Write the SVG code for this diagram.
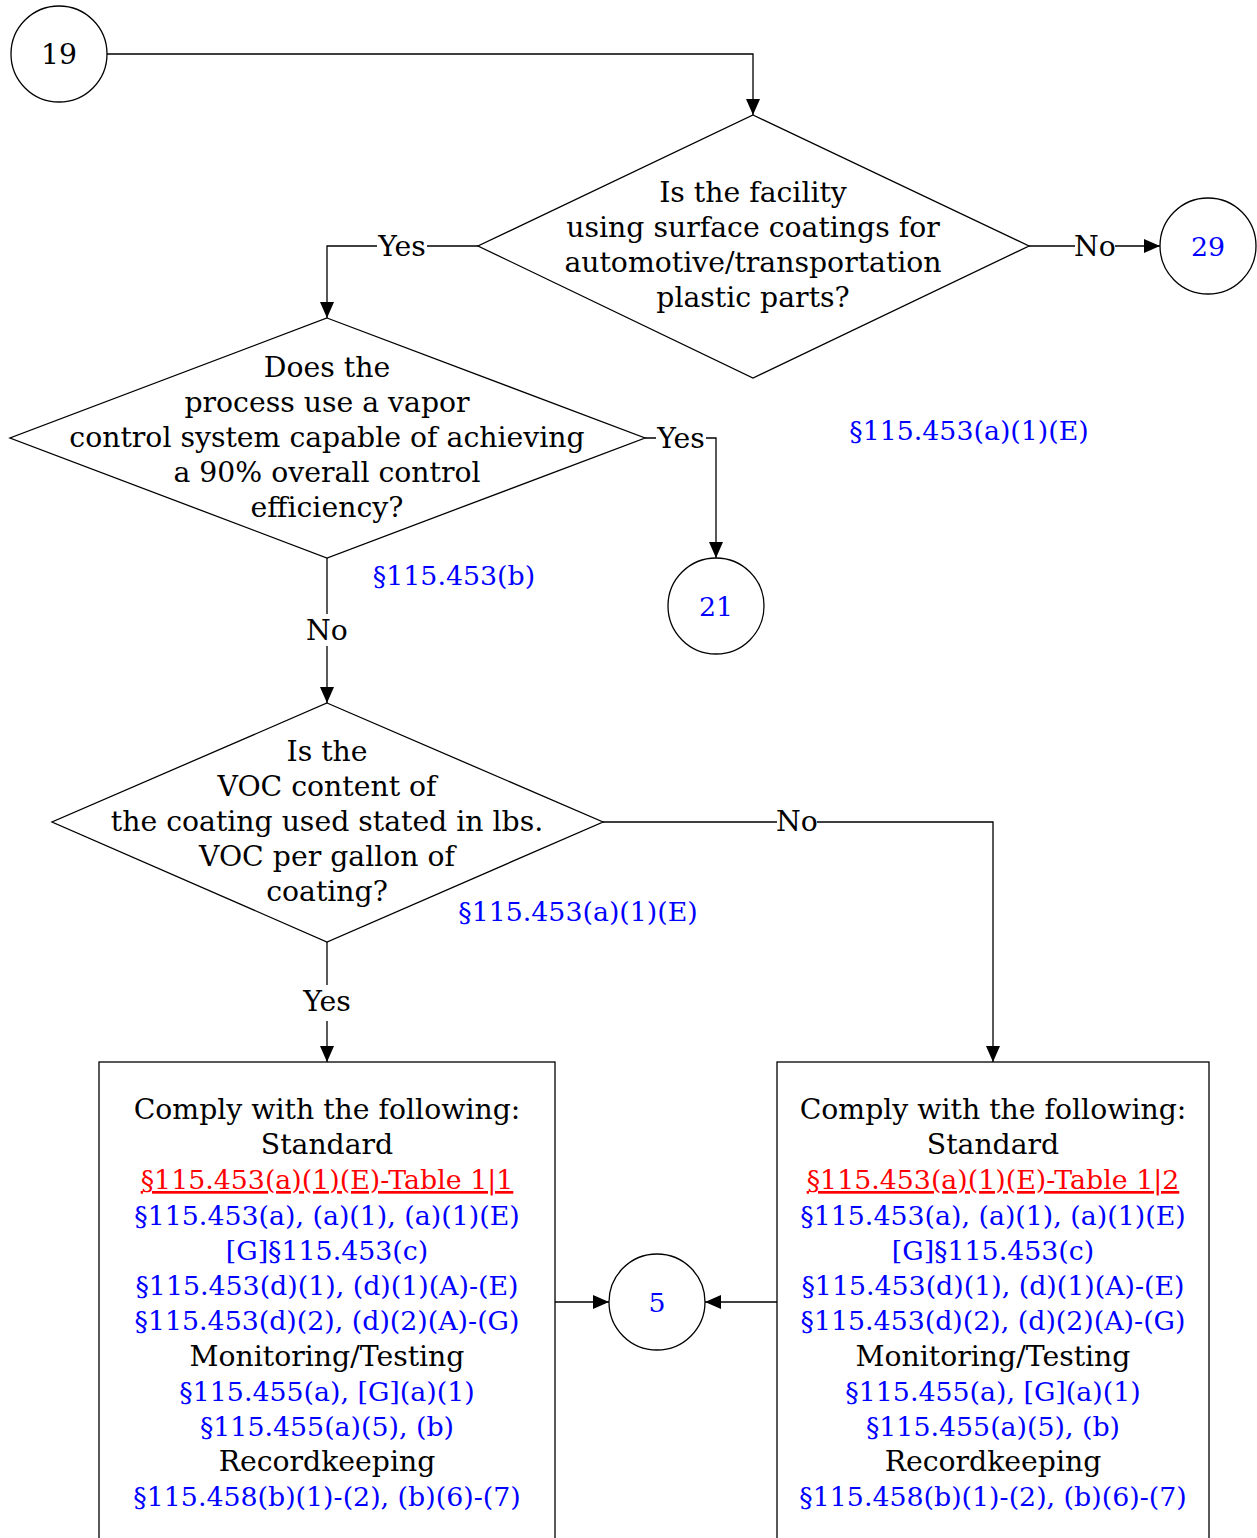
<svg xmlns="http://www.w3.org/2000/svg" width="1257" height="1538" viewBox="0 0 1257 1538">
<style>
text{font-family:"DejaVu Serif","Liberation Serif",serif;font-size:28.3px;text-anchor:middle;fill:#000}
.b{fill:#0000ff;font-size:26.8px}
.r{fill:#ff0000;font-size:26.8px;text-decoration:underline}
.s{fill:#fff;stroke:#000;stroke-width:1.3}
.c{fill:none;stroke:#000;stroke-width:1.3}
.bg{fill:#fff}
</style>
<defs>
<marker id="a" markerWidth="16" markerHeight="14" refX="16" refY="7" orient="auto" markerUnits="userSpaceOnUse">
<path d="M0,0 L16,7 L0,14 Z" fill="#000"/>
</marker>
</defs>
<rect width="1257" height="1538" fill="#fff"/>
<g id="connectors">
<path class="c" d="M107,54 H753 V115" marker-end="url(#a)"/>
<path class="c" d="M478,246 H327 V318" marker-end="url(#a)"/>
<path class="c" d="M1029,246 H1160" marker-end="url(#a)"/>
<path class="c" d="M645,438 H716 V558" marker-end="url(#a)"/>
<path class="c" d="M327,558 V703" marker-end="url(#a)"/>
<path class="c" d="M603,822 H993 V1062" marker-end="url(#a)"/>
<path class="c" d="M327,942 V1062" marker-end="url(#a)"/>
<path class="c" d="M555,1302 H609" marker-end="url(#a)"/>
<path class="c" d="M777,1302 H705" marker-end="url(#a)"/>
<rect class="bg" x="377" y="232" width="50" height="28"/><text x="402" y="256">Yes</text>
<rect class="bg" x="1075" y="232" width="40" height="28"/><text x="1095" y="256">No</text>
<rect class="bg" x="656" y="424" width="50" height="28"/><text x="681" y="448">Yes</text>
<rect class="bg" x="305" y="614" width="44" height="32"/><text x="327" y="640">No</text>
<rect class="bg" x="777" y="808" width="40" height="28"/><text x="797" y="831">No</text>
<rect class="bg" x="300" y="985" width="54" height="36"/><text x="327" y="1011">Yes</text>
</g>
<g id="n19"><circle class="s" cx="59" cy="54" r="48"/><text x="59" y="64">19</text></g>
<g id="d1"><polygon class="s" points="753,115 1029,246 753,378 478,246"/>
<text x="753" y="202">Is the facility</text>
<text x="753" y="237">using surface coatings for</text>
<text x="753" y="272">automotive/transportation</text>
<text x="753" y="307">plastic parts?</text></g>
<g id="n29"><circle class="s" cx="1208" cy="246" r="48"/><text class="b" x="1208" y="256">29</text></g>
<g id="ref1"><text class="b" x="969" y="440">§115.453(a)(1)(E)</text></g>
<g id="d2"><polygon class="s" points="327,318 645,438 327,558 10,438"/>
<text x="327" y="377">Does the</text>
<text x="327" y="412">process use a vapor</text>
<text x="327" y="447">control system capable of achieving</text>
<text x="327" y="482">a 90% overall control</text>
<text x="327" y="517">efficiency?</text></g>
<g id="ref2"><text class="b" x="454" y="585">§115.453(b)</text></g>
<g id="n21"><circle class="s" cx="716" cy="606" r="48"/><text class="b" x="716" y="616">21</text></g>
<g id="d3"><polygon class="s" points="327,703 603,822 327,942 52,822"/>
<text x="327" y="761">Is the</text>
<text x="327" y="796">VOC content of</text>
<text x="327" y="831">the coating used stated in lbs.</text>
<text x="327" y="866">VOC per gallon of</text>
<text x="327" y="901">coating?</text></g>
<g id="ref3"><text class="b" x="578" y="921">§115.453(a)(1)(E)</text></g>
<g id="box1"><rect class="s" x="99" y="1062" width="456" height="490"/>
<text x="327" y="1119">Comply with the following:</text>
<text x="327" y="1154">Standard</text>
<text class="r" x="327" y="1189">§115.453(a)(1)(E)-Table 1|1</text>
<text class="b" x="327" y="1225">§115.453(a), (a)(1), (a)(1)(E)</text>
<text class="b" x="327" y="1260">[G]§115.453(c)</text>
<text class="b" x="327" y="1295">§115.453(d)(1), (d)(1)(A)-(E)</text>
<text class="b" x="327" y="1330">§115.453(d)(2), (d)(2)(A)-(G)</text>
<text x="327" y="1366">Monitoring/Testing</text>
<text class="b" x="327" y="1401">§115.455(a), [G](a)(1)</text>
<text class="b" x="327" y="1436">§115.455(a)(5), (b)</text>
<text x="327" y="1471">Recordkeeping</text>
<text class="b" x="327" y="1506">§115.458(b)(1)-(2), (b)(6)-(7)</text></g>
<g id="n5"><circle class="s" cx="657" cy="1302" r="48"/><text class="b" x="657" y="1312">5</text></g>
<g id="box2"><rect class="s" x="777" y="1062" width="432" height="490"/>
<text x="993" y="1119">Comply with the following:</text>
<text x="993" y="1154">Standard</text>
<text class="r" x="993" y="1189">§115.453(a)(1)(E)-Table 1|2</text>
<text class="b" x="993" y="1225">§115.453(a), (a)(1), (a)(1)(E)</text>
<text class="b" x="993" y="1260">[G]§115.453(c)</text>
<text class="b" x="993" y="1295">§115.453(d)(1), (d)(1)(A)-(E)</text>
<text class="b" x="993" y="1330">§115.453(d)(2), (d)(2)(A)-(G)</text>
<text x="993" y="1366">Monitoring/Testing</text>
<text class="b" x="993" y="1401">§115.455(a), [G](a)(1)</text>
<text class="b" x="993" y="1436">§115.455(a)(5), (b)</text>
<text x="993" y="1471">Recordkeeping</text>
<text class="b" x="993" y="1506">§115.458(b)(1)-(2), (b)(6)-(7)</text></g>
</svg>
